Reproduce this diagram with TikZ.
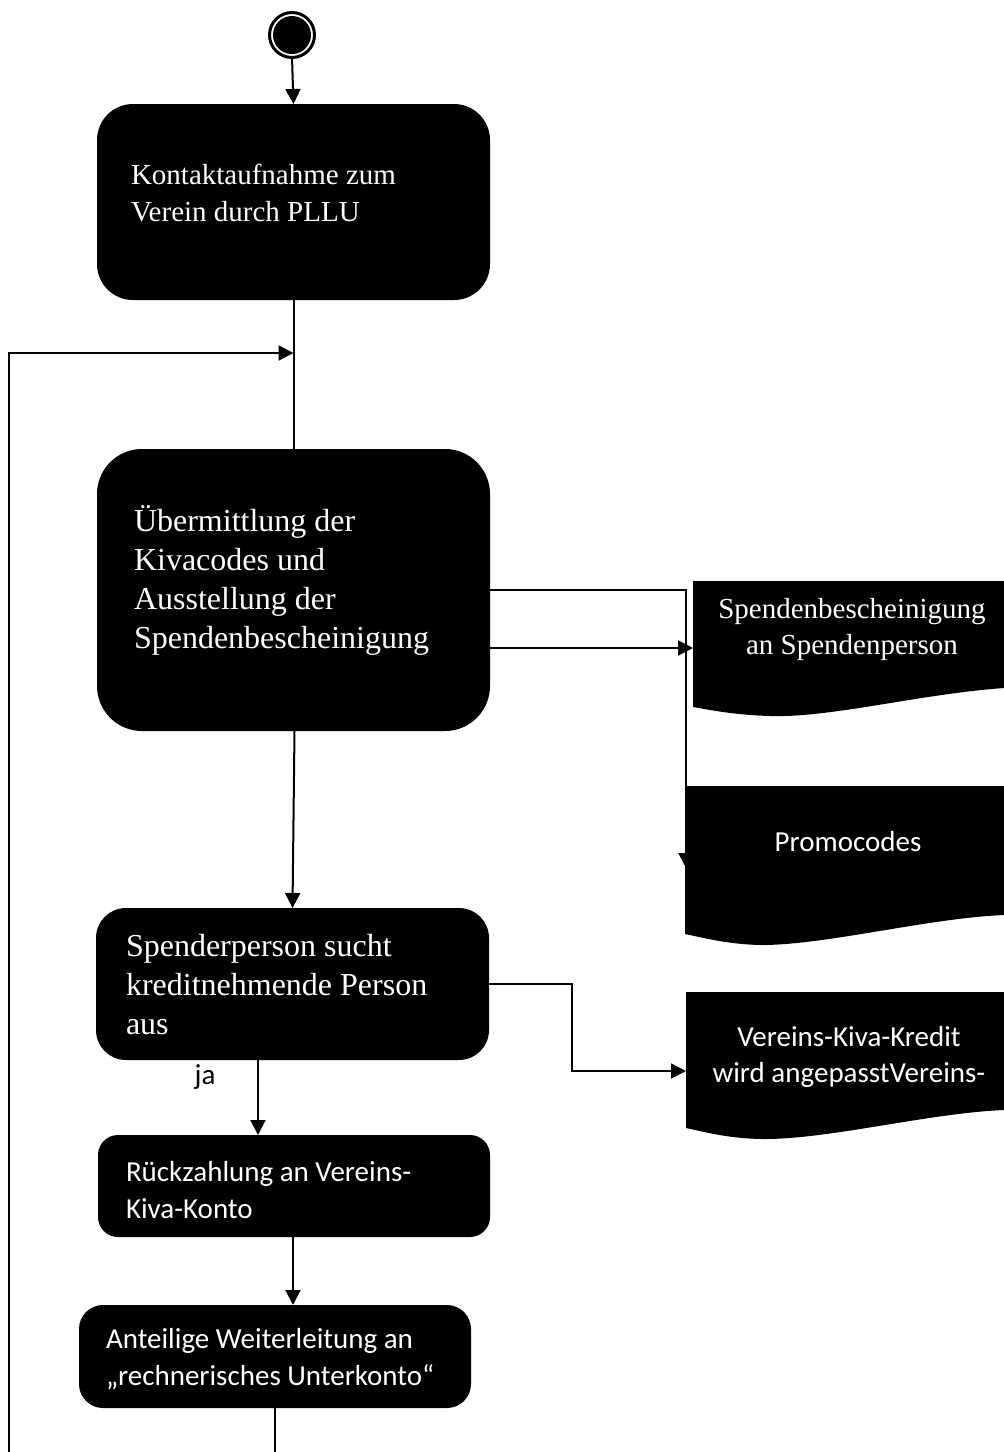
\documentclass[tikz,border=0pt]{standalone}
\usepackage{fontspec}
\setmainfont{Liberation Serif}
\newfontfamily\calibri{Carlito}
\usetikzlibrary{arrows.meta}
\begin{document}
\begin{tikzpicture}[x=1pt,y=-1pt,line width=2pt,
  actbox/.style={fill=black,draw=none,inner sep=0pt,outer sep=0pt},
  doc/.style={fill=black,draw=none},
  serifA/.style={text=white,inner sep=0pt,align=left,anchor=west,font=\fontsize{29}{37}\selectfont},
  serifB/.style={text=white,inner sep=0pt,align=left,anchor=west,font=\fontsize{32}{39}\selectfont},
  sansA/.style={text=white,inner sep=0pt,align=left,anchor=west,font=\calibri\fontsize{29}{36.5}\selectfont},
  arr/.style={-{Triangle[length=15pt,width=15pt]}},
  line/.style={line width=2pt}]
\useasboundingbox (0,0) rectangle (1004,1452);

% start
\node[circle,draw=black,line width=3pt,minimum size=45pt,inner sep=0pt,outer sep=0pt,fill=white] (start) at (292,35) {};
\fill[black] (start.center) circle[radius=19pt];

% activity boxes
\node[actbox,minimum width=393pt,minimum height=196pt,rounded corners=36pt] (b1) at (293.5,202) {};
\node[actbox,minimum width=393pt,minimum height=282pt,rounded corners=45pt] (b2) at (293.5,590) {};
\node[actbox,minimum width=393pt,minimum height=152pt,rounded corners=30pt] (b3) at (292.5,984) {};
\node[actbox,minimum width=392pt,minimum height=102pt,rounded corners=20pt] (b4) at (294,1186) {};
\node[actbox,minimum width=392pt,minimum height=103pt,rounded corners=24pt] (b5) at (275,1356.5) {};

\node[serifA] (t1) at (130,193) {Kontaktaufnahme zum\\Verein durch PLLU};
\node[serifB] (t2) at (133,580) {Übermittlung der\\Kivacodes und\\Ausstellung der\\Spendenbescheinigung};
\node[serifB] (t3) at (125,985) {Spenderperson sucht\\kreditnehmende Person\\aus};
\node[sansA] (t4) at (125,1190) {Rückzahlung an Vereins-\\Kiva-Konto};
\node[sansA] (t5) at (105,1359) {Anteilige Weiterleitung an\\„rechnerisches Unterkonto“};

% connector coordinates
\coordinate (loopbot) at (9,1452);
\coordinate (loopjoin) at (293.5,353);
\coordinate (promoarrow) at (686,868);
\coordinate (d1w) at (693,648);
\coordinate (bend) at (572,984);
\coordinate (d3w) at (686,1071);

% connectors
\draw[arr] (start.south) -- (b1.north);
\draw (b1.south) -- (b2.north);
\draw[arr] (loopbot) |- (loopjoin);
\draw[arr] (b2.east) -| (promoarrow);
\draw[arr] ([yshift=-58pt]b2.east) -- (d1w);
\draw[arr] ([xshift=1pt]b2.south) -- (b3.north);
\draw[arr] (b3.east) -- (bend) |- (d3w);
\draw[arr] ([xshift=-34.5pt]b3.south) -- ([xshift=-36pt]b4.north);
\draw[arr] ([xshift=-1pt]b4.south) -- ([xshift=18pt]b5.north);
\draw (b5.south) -- (b5.south |- loopbot);

\node[text=black,inner sep=0pt,font=\calibri\fontsize{29}{36}\selectfont] (ja) at (205,1077) {ja};

% documents
\fill[doc] (693,581) -- (1004,581) -- (1004,688) .. controls (920,694) and (830,718) .. (770,716) .. controls (735,715) and (710,710) .. (693,707) -- cycle;
\node[text=white,inner sep=0pt,align=center,font=\fontsize{29}{36}\selectfont] (d1) at (852,630) {Spendenbescheinigung\\an Spendenperson};

\fill[doc] (685,786) -- (1004,786) -- (1004,915) .. controls (930,918) and (830,944) .. (765,945) .. controls (730,945) and (705,938) .. (685,934) -- cycle;
\node[text=white,inner sep=0pt,font=\calibri\fontsize{29}{36}\selectfont] (d2) at (848,842) {Promocodes};

\fill[doc] (686,992) -- (1004,992) -- (1004,1110) .. controls (930,1113) and (830,1139) .. (765,1139) .. controls (730,1139) and (705,1132) .. (686,1128) -- cycle;
\node[text=white,inner sep=0pt,align=center,font=\calibri\fontsize{29}{36}\selectfont] (d3) at (849,1057) {Vereins-Kiva-Kredit\\wird angepasstVereins-};
\end{tikzpicture}
\end{document}
